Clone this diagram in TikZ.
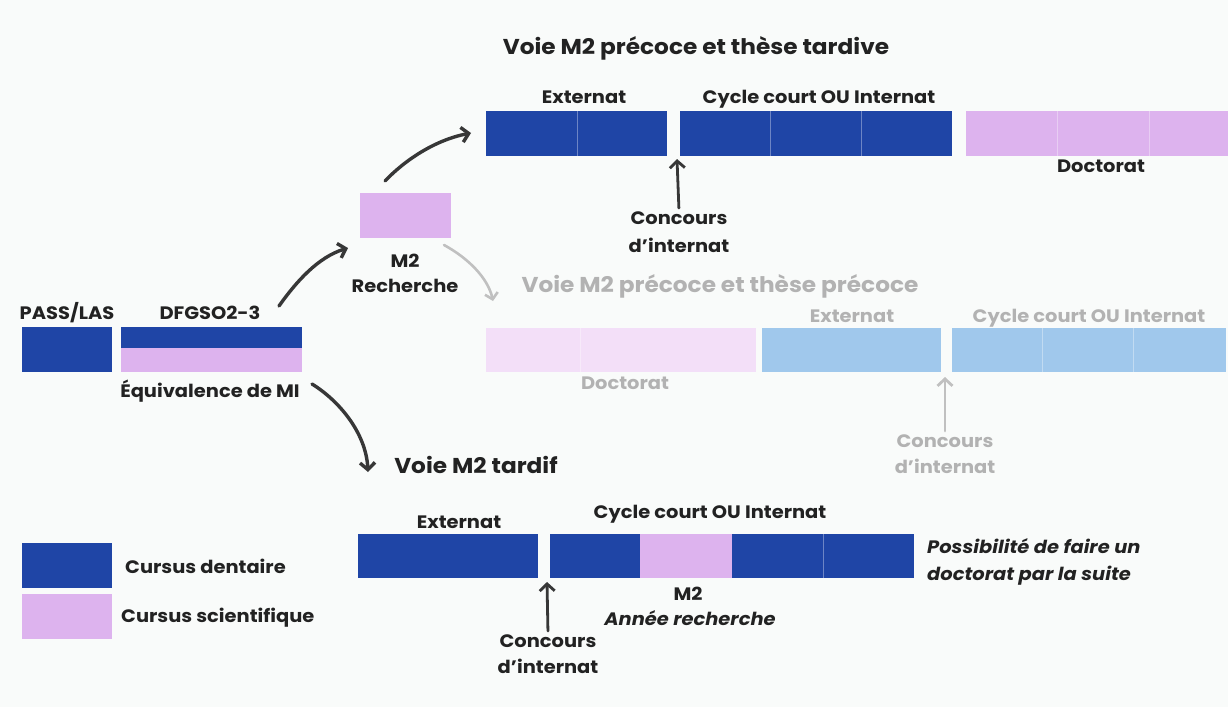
\documentclass[tikz,border=0pt]{standalone}
\usepackage{fontspec}
\setmainfont{Poppins}[FakeStretch=1.08]
\usetikzlibrary{arrows.meta}
\definecolor{dblue}{RGB}{31,69,166}
\definecolor{lpink}{RGB}{221,179,238}
\definecolor{lblue}{RGB}{160,200,236}
\definecolor{ppink}{RGB}{243,223,248}
\definecolor{bgc}{RGB}{249,251,250}
\definecolor{ink}{RGB}{34,34,34}
\definecolor{fade}{RGB}{178,178,178}
\definecolor{arrc}{RGB}{55,55,55}
\definecolor{farr}{RGB}{192,192,192}
\begin{document}
\begin{tikzpicture}[x=1pt,y=-1pt,
  blk/.style={anchor=north west, inner sep=0, outer sep=0, minimum height=45pt},
  lbl/.style={font=\fontsize{18}{26}\selectfont\bfseries, text=ink, inner sep=0, anchor=base, align=center},
  ilbl/.style={font=\fontsize{18}{27}\selectfont\bfseries\itshape, text=ink, inner sep=0, anchor=base, align=center},
  ttl/.style={font=\fontsize{21.5}{24}\selectfont\bfseries, text=ink, inner sep=0, anchor=base},
  divl/.style={draw=white, draw opacity=0.35, line width=0.8pt},
  arr/.style={draw=arrc, line width=3.4pt, line cap=round, line join=round, -{Straight Barb[length=7pt,width=15pt]}},
  farrow/.style={draw=farr, line width=2.6pt, line cap=round, line join=round, -{Straight Barb[length=6pt,width=13pt]}},
  carr/.style={draw=arrc, line width=2.8pt, line cap=round, line join=round, -{Straight Barb[length=7pt,width=15pt]}},
  fcarr/.style={draw=farr, line width=2.8pt, line cap=round, line join=round, -{Straight Barb[length=7pt,width=15pt]}}
]
\fill[bgc] (0,0) rectangle (1228,707);
\useasboundingbox (0,0) rectangle (1228,707);

% ---- left part
\node[blk, fill=dblue, minimum width=90pt] (pass) at (22,327) {};
\node[blk, fill=dblue, minimum width=181pt, minimum height=21pt] (dfgA) at (121,327) {};
\node[blk, fill=lpink, minimum width=181pt, minimum height=24pt] (dfgB) at (121,348) {};
\node[lbl] (passL) at (67,319) {PASS/LAS};
\node[lbl] (dfgL) at (210,319) {DFGSO2-3};
\node[lbl] (eqL) at (210,397) {Équivalence de MI};

\node[blk, fill=lpink, minimum width=91pt] (m2) at (360,193) {};
\node[lbl, font=\fontsize{18}{25}\selectfont\bfseries] (m2L) at (405,292) {M2\\Recherche};

% ---- top path
\node[ttl] (t1) at (696,54) {Voie M2 précoce et thèse tardive};
\node[blk, fill=dblue, minimum width=181pt] (tExt) at (486,111) {};
\node[blk, fill=dblue, minimum width=272pt] (tCyc) at (680,111) {};
\node[blk, fill=lpink, minimum width=262pt] (tDoc) at (966,111) {};
\draw[divl] (577,111) -- (577,156) (770,111) -- (770,156) (861,111) -- (861,156)
            (1057,111) -- (1057,156) (1149,111) -- (1149,156);
\node[lbl] (tExtL) at (584,103) {Externat};
\node[lbl] (tCycL) at (819,103) {Cycle court OU Internat};
\node[lbl] (tDocL) at (1101,172) {Doctorat};
\node[lbl, font=\fontsize{18}{28}\selectfont\bfseries] (tConc) at (679,252) {Concours\\d'internat};
\coordinate (tGap) at (677,159);
\draw[carr, shorten <=3pt] (tConc.north) -- (tGap);

% ---- middle (faded) path
\node[ttl, text=fade] (t2) at (720,292) {Voie M2 précoce et thèse précoce};
\node[blk, fill=ppink, minimum width=270pt, minimum height=44pt] (mDoc) at (486,328) {};
\node[blk, fill=lblue, minimum width=179pt, minimum height=44pt] (mExt) at (762,328) {};
\node[blk, fill=lblue, minimum width=274pt, minimum height=44pt] (mCyc) at (952,328) {};
\draw[divl] (580,328) -- (580,372) (1042,328) -- (1042,372) (1133,328) -- (1133,372);
\node[lbl, text=fade] (mExtL) at (852,322) {Externat};
\node[lbl, text=fade] (mCycL) at (1089,322) {Cycle court OU Internat};
\node[lbl, text=fade] (mDocL) at (625,389) {Doctorat};
\node[lbl, text=fade] (mConc) at (945,473) {Concours\\d'internat};
\coordinate (mGap) at (945,377);
\draw[fcarr, shorten <=3pt] (mConc.north) -- (mGap);

% ---- bottom path
\node[ttl] (t3) at (476,473) {Voie M2 tardif};
\node[blk, fill=dblue, minimum width=180pt, minimum height=44pt] (bExt) at (358,534) {};
\node[blk, fill=dblue, minimum width=90pt, minimum height=44pt] (bC1) at (550,534) {};
\node[blk, fill=lpink, minimum width=92pt, minimum height=44pt] (bM2) at (640,534) {};
\node[blk, fill=dblue, minimum width=182pt, minimum height=44pt] (bC2) at (732,534) {};
\draw[divl] (823,534) -- (823,578);
\node[lbl] (bExtL) at (459,528) {Externat};
\node[lbl] (bCycL) at (710,518) {Cycle court OU Internat};
\node[lbl] (bM2L) at (688,600) {M2};
\node[ilbl] (bM2R) at (690,625) {Année recherche};
\node[lbl] (bConc) at (548,673) {Concours\\d'internat};
\coordinate (bGap) at (547,582);
\draw[carr, shorten <=3pt] (bConc.north) -- (bGap);
\node[ilbl, anchor=base west, align=left] (poss) at (927,580) {Possibilité de faire un\\doctorat par la suite};

% ---- legend
\node[blk, fill=dblue, minimum width=90pt] (legA) at (22,543) {};
\node[blk, fill=lpink, minimum width=90pt] (legB) at (22,594) {};
\node[lbl, anchor=base west] (legAL) at (125,573) {Cursus dentaire};
\node[lbl, anchor=base west] (legBL) at (121,622) {Cursus scientifique};

% ---- curved connectors
\coordinate (a1s) at (279,306);
\coordinate (a1e) at (348,248);
\draw[arr] (a1s) .. controls (296,282) and (318,257) .. (a1e);
\coordinate (a2s) at (385,181);
\coordinate (a2e) at (471,133);
\draw[arr] (a2s) .. controls (405,160) and (435,140) .. (a2e);
\coordinate (a3s) at (444,245);
\coordinate (a3e) at (493,301);
\draw[farrow] (a3s) .. controls (468,258) and (488,278) .. (a3e);
\coordinate (a4s) at (312,384);
\coordinate (a4e) at (368,472);
\draw[arr] (a4s) .. controls (338,400) and (366,432) .. (a4e);
\end{tikzpicture}
\end{document}
